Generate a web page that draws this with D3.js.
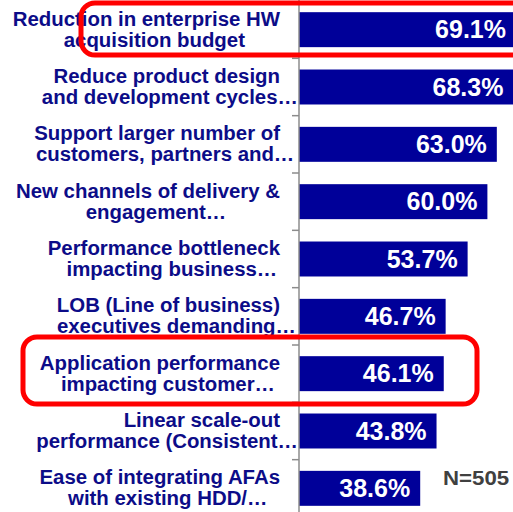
<!DOCTYPE html>
<html>
<head>
  <meta charset="UTF-8">
  <title>AFA drivers</title>
  <style>
    body { margin: 0; background: #fff; }
    svg { display: block; font-family: "Liberation Sans", Arial, sans-serif; font-weight: bold; }
  </style>
</head>
<body>
<svg></svg>
<script src="https://d3js.org/d3.v7.min.js"></script>
<script>
    let width = 513, height = 512;

    // data
    var line1 = ["Reduction in enterprise HW", "Reduce product design", "Support larger number of",
        "New channels of delivery &", "Performance bottleneck", "LOB (Line of business)",
        "Application performance", "Linear scale-out", "Ease of integrating AFAs"];
    var line2 = ["acquisition budget", "and development cycles\u2026", "customers, partners and\u2026",
        "engagement\u2026", "impacting business\u2026", "executives demanding\u2026",
        "impacting customer\u2026", "performance (Consistent\u2026", "with existing HDD/\u2026"];
    var values = [69.1, 68.3, 63.0, 60.0, 53.7, 46.7, 46.1, 43.8, 38.6];
    var note = "N=505";

    let svg = d3.select("svg")
        .attr("width", width)
        .attr("height", height);

    var x = d3.scaleLinear().domain([0, 100]).range([299, 613]);
    var y = d3.scaleBand()
        .domain(d3.range(values.length))
        .range([1, 517])
        .paddingInner(0.39)
        .paddingOuter(0.195);

    var stretch = 1.02;   // text in the picture is a little wide

    // category labels (two lines), drawn first so bars cover any overflow
    var labelRight = 280;
    var labels = svg.append("g")
        .selectAll("g")
        .data(line1)
        .enter()
        .append("g");

    labels.each(function(d, i) {
        var g = d3.select(this);
        var cy = y(i) + y.bandwidth() / 2;
        var t1 = g.append("text")
            .attr("transform", "translate(" + labelRight + "," + (cy - 4) + ") scale(" + stretch + ",1)")
            .attr("text-anchor", "end")
            .attr("fill", "#0c0c88")
            .style("font-size", "20px")
            .text(d);
        var w = t1.node().getComputedTextLength() * stretch;
        var t2 = g.append("text")
            .attr("text-anchor", "middle")
            .attr("fill", "#0c0c88")
            .style("font-size", "20px")
            .text(line2[i]);
        var w2 = t2.node().getComputedTextLength() * stretch;
        var c2 = Math.min(labelRight - w / 2 + 8, x(0) - 1 - w2 / 2);
        t2.attr("transform", "translate(" + c2 + "," + (cy + 17) + ") scale(" + stretch + ",1)");
    });

    // bars
    svg.append("g")
        .selectAll("rect")
        .data(values)
        .enter()
        .append("rect")
        .attr("x", x(0))
        .attr("y", (d, i) => y(i))
        .attr("width", d => x(d) - x(0))
        .attr("height", y.bandwidth())
        .attr("fill", "#000099");

    // value labels
    svg.append("g")
        .selectAll("text")
        .data(values)
        .enter()
        .append("text")
        .attr("x", d => x(d) - 10)
        .attr("y", (d, i) => y(i) + y.bandwidth() / 2 + 8.5)
        .attr("text-anchor", "end")
        .attr("fill", "#fff")
        .style("font-size", "25px")
        .text(d => d.toFixed(1) + "%");

    // axis line and ticks between categories
    var axis = svg.append("g");
    axis.append("line")
        .attr("x1", x(0)).attr("x2", x(0))
        .attr("y1", 0).attr("y2", height)
        .attr("stroke", "#8c8c8c")
        .attr("stroke-width", 1.5);
    axis.selectAll("line.tick")
        .data(d3.range(1, values.length))
        .enter()
        .append("line")
        .attr("class", "tick")
        .attr("x1", x(0) - 7).attr("x2", x(0))
        .attr("y1", i => y(0) - y.step() * y.paddingOuter() + i * y.step())
        .attr("y2", i => y(0) - y.step() * y.paddingOuter() + i * y.step())
        .attr("stroke", "#8c8c8c")
        .attr("stroke-width", 1.5);

    // red highlight boxes
    svg.append("rect")
        .attr("x", 81).attr("y", 3)
        .attr("width", 460).attr("height", 52)
        .attr("rx", 14)
        .attr("fill", "none")
        .attr("stroke", "#ff0000")
        .attr("stroke-width", 5);
    svg.append("rect")
        .attr("x", 23).attr("y", 337)
        .attr("width", 454).attr("height", 67)
        .attr("rx", 14)
        .attr("fill", "none")
        .attr("stroke", "#ff0000")
        .attr("stroke-width", 5);

    // sample size note
    svg.append("text")
        .attr("transform", "translate(443,485) scale(1.06,1)")
        .attr("fill", "#404040")
        .style("font-size", "21px")
        .text(note);
</script>
</body>
</html>
